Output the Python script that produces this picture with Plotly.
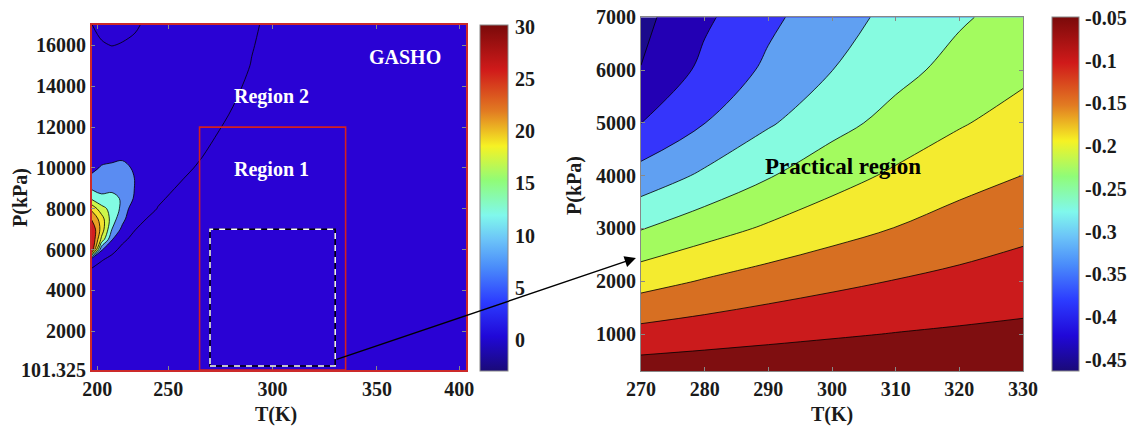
import plotly.graph_objects as go

W, H = 1132, 429
FONT = "Liberation Serif"

# ---------------- left panel : full GASHO map ----------------
T_full = [213.3, 218, 223, 228, 234, 245, 265, 290, 330, 392.7]
P_full = [101.325, 3000, 5000, 5500, 6000, 6500, 7000, 7500, 8000, 8500,
          9000, 9500, 10000, 10500, 11500, 13000, 15000, 16000, 17000]
Z_full = [
    [-0.5, -0.5, -0.5, -0.5, -0.5, -0.5, -0.5, -0.5, -0.5, -0.5],
    [-0.26, -0.49, -0.5, -0.5, -0.5, -0.5, -0.5, -0.5, -0.5, -0.5],
    [0.95, 0.715, 0.465, 0.215, -0.085, -0.5, -0.5, -0.5, -0.5, -0.5],
    [1.25, 1.05, 0.8, 0.515, 0.215, -0.335, -0.5, -0.5, -0.5, -0.5],
    [28.0, 5.5, 1.2, 0.82, 0.52, -0.03, -0.5, -0.5, -0.5, -0.5],
    [29.5, 16.0, 5.3, 1.15, 0.78, 0.23, -0.5, -0.5, -0.5, -0.5],
    [28.5, 19.5, 9.0, 4.0, 1.03, 0.475, -0.5, -0.5, -0.5, -0.5],
    [24.6, 19.0, 11.0, 6.2, 1.27, 0.72, -0.28, -0.5, -0.5, -0.5],
    [20.0, 14.5, 11.5, 8.0, 1.9, 0.955, -0.045, -0.5, -0.5, -0.5],
    [12.3, 10.0, 10.0, 8.6, 4.4, 1.18, 0.18, -0.5, -0.5, -0.5],
    [8.5, 7.8, 8.3, 8.2, 4.85, 1.405, 0.405, -0.5, -0.5, -0.5],
    [6.1, 6.0, 6.8, 7.2, 4.9, 1.63, 0.63, -0.5, -0.5, -0.5],
    [3.7, 5.5, 5.6, 6.0, 4.5, 1.86, 0.86, -0.39, -0.5, -0.5],
    [3.0, 3.6, 4.4, 4.6, 3.5, 2.055, 1.055, -0.195, -0.5, -0.5],
    [3.0, 3.0, 3.0, 3.0, 3.0, 2.37, 1.37, 0.12, -0.5, -0.5],
    [3.0, 3.0, 3.0, 3.0, 3.0, 2.8, 1.8, 0.55, -0.5, -0.5],
    [3.0, 3.0, 3.0, 3.0, 3.0, 3.0, 2.205, 0.955, -0.5, -0.5],
    [2.0, 1.25, 0.95, 1.16, 1.45, 3.0, 2.305, 1.055, -0.5, -0.5],
    [1.05, 0.3, 0.0, 0.2, 0.7, 2.0, 2.405, 1.155, -0.5, -0.5],
]
full_T_range = [213.3, 392.7]
full_P_range = [101.325, 17000]
full_T_ticks = [216, 250, 300, 350, 389.5]
full_T_labels = ["200", "250", "300", "350", "400"]
full_P_ticks = [101.325, 2000, 4000, 6000, 8000, 10000, 12000, 14000, 16000]
full_P_labels = ["101.325", "2000", "4000", "6000", "8000", "10000", "12000", "14000", "16000"]
full_levels = dict(start=1, end=25, size=4)
full_band_colors = ["#2a02d4", "#2a02d4", "#5a8cf2", "#82fbe2", "#cdf64a",
                    "#f4e02c", "#e8a024", "#d21e1e"]
full_cbar_range = [-3.0, 30.2]
full_cbar_ticks = [0, 5, 10, 15, 20, 25, 30]

region1_T = [265, 335]
region1_P = [101.325, 12000]

# ---------------- right panel : practical region ----------------
T_zoom = [270, 280, 290, 300, 310, 320, 330]
P_zoom = [300, 1000, 2000, 3000, 4000, 5000, 6000, 7000]
Z_zoom = [
    [-0.0798, -0.0759, -0.0732, -0.0716, -0.0708, -0.0707, -0.0709],
    [-0.1265, -0.1185, -0.1108, -0.1042, -0.0988, -0.0946, -0.0913],
    [-0.1954, -0.1769, -0.1619, -0.1494, -0.1386, -0.1292, -0.1205],
    [-0.2620, -0.2365, -0.2145, -0.1955, -0.1790, -0.1640, -0.1500],
    [-0.3249, -0.2929, -0.2629, -0.2354, -0.2135, -0.1939, -0.1797],
    [-0.3805, -0.3405, -0.3045, -0.2735, -0.2465, -0.2235, -0.2042],
    [-0.4189, -0.3699, -0.3324, -0.3004, -0.2719, -0.2469, -0.2285],
    [-0.4310, -0.3870, -0.3486, -0.3165, -0.2890, -0.2648, -0.2445],
]
zoom_T_range = [270, 330]
zoom_P_range = [300, 7000]
zoom_T_ticks = [270, 280, 290, 300, 310, 320, 330]
zoom_P_ticks = [1000, 2000, 3000, 4000, 5000, 6000, 7000]
zoom_levels = dict(start=-0.42, end=-0.10, size=0.04)
zoom_band_colors = ["#1b0b8c", "#2300b4", "#3535fb", "#60a0f2", "#86fbe0",
                    "#a3fb5f", "#f4eb2f", "#d76f22", "#cb1b1c", "#7f0e10"]
zoom_cbar_range = [-0.463, -0.049]
zoom_cbar_ticks = [-0.45, -0.4, -0.35, -0.3, -0.25, -0.2, -0.15, -0.1, -0.05]
zoom_cbar_labels = ["-0.45", "-0.4", "-0.35", "-0.3", "-0.25", "-0.2", "-0.15", "-0.1", "-0.05"]

annot_gasho = (363.5, 15430)
annot_region2 = (299.7, 13520)
annot_region1 = (299.7, 9900)
annot_practical = (301.7, 4180)
arrow_tail = (330, 600)      # left-panel data coords
arrow_head = (269.2, 2440)   # right-panel data coords

cbar_scale = [[0.0, "#1a0a78"], [0.1, "#2008d8"], [0.2, "#2c3cff"], [0.3, "#4a8cfa"],
              [0.38, "#6cc4f8"], [0.45, "#80f8ec"], [0.55, "#90fc78"], [0.65, "#f6f224"],
              [0.75, "#e27c22"], [0.87, "#d01a1a"], [1.0, "#7a0a0a"]]

# ---------------- layout geometry (pixels) ----------------
L_px = (91.7, 466.0, 25.0, 370.0)   # left, right, top, bottom
R_px = (641.0, 1023.0, 17.3, 371.0)
dom = lambda p: ([p[0] / W, p[1] / W], [1 - p[3] / H, 1 - p[2] / H])
Lx, Ly = dom(L_px)
Rx, Ry = dom(R_px)


def to_paper(pt, xr, yr, xd, yd):
    fx = xd[0] + (pt[0] - xr[0]) / (xr[1] - xr[0]) * (xd[1] - xd[0])
    fy = yd[0] + (pt[1] - yr[0]) / (yr[1] - yr[0]) * (yd[1] - yd[0])
    return fx, fy


def band_scale(colors):
    n = len(colors) - 1
    return [[k / n, c] for k, c in enumerate(colors)]


tickfont = dict(family=FONT, size=20, color="#1a1a1a", weight="bold")

fig = go.Figure()
fig.add_trace(go.Contour(
    x=T_full, y=P_full, z=Z_full, xaxis="x", yaxis="y",
    autocontour=False, contours=dict(coloring="fill", showlines=True, **full_levels),
    colorscale=band_scale(full_band_colors), showscale=False,
    line=dict(color="black", width=0.8, smoothing=1), hoverinfo="skip"))
fig.add_trace(go.Contour(
    x=T_zoom, y=P_zoom, z=Z_zoom, xaxis="x2", yaxis="y2",
    autocontour=False, contours=dict(coloring="fill", showlines=True, **zoom_levels),
    colorscale=band_scale(zoom_band_colors), showscale=False,
    line=dict(color="black", width=0.8, smoothing=1), hoverinfo="skip"))

# continuous colour bars
fig.add_trace(go.Scatter(
    x=[T_full[0]], y=[P_full[0]], xaxis="x", yaxis="y", mode="markers",
    marker=dict(color=[full_cbar_range[0]], opacity=0, size=1, colorscale=cbar_scale,
                cmin=full_cbar_range[0], cmax=full_cbar_range[1], showscale=True,
                colorbar=dict(x=480 / W, xanchor="left", y=1 - 25 / H, yanchor="top",
                              len=346 / H, lenmode="fraction", thickness=28, thicknessmode="pixels",
                              xpad=0, ypad=0, outlinewidth=1, outlinecolor="#888888",
                              tickvals=full_cbar_ticks, ticks="outside", ticklen=3,
                              tickcolor="#ffffff", tickfont=tickfont)),
    showlegend=False, hoverinfo="skip"))
fig.add_trace(go.Scatter(
    x=[T_zoom[0]], y=[P_zoom[0]], xaxis="x2", yaxis="y2", mode="markers",
    marker=dict(color=[zoom_cbar_range[0]], opacity=0, size=1, colorscale=cbar_scale,
                cmin=zoom_cbar_range[0], cmax=zoom_cbar_range[1], showscale=True,
                colorbar=dict(x=1052 / W, xanchor="left", y=1 - 17 / H, yanchor="top",
                              len=354 / H, lenmode="fraction", thickness=27, thicknessmode="pixels",
                              xpad=0, ypad=0, outlinewidth=1, outlinecolor="#888888",
                              tickvals=zoom_cbar_ticks, ticktext=zoom_cbar_labels,
                              ticks="outside", ticklen=2, tickcolor="#ffffff", tickfont=tickfont)),
    showlegend=False, hoverinfo="skip"))

# boxes
fig.add_shape(type="rect", xref="x", yref="y", x0=region1_T[0], x1=region1_T[1],
              y0=region1_P[0], y1=region1_P[1], line=dict(color="#d42020", width=1.6))
fig.add_shape(type="rect", xref="x", yref="y", x0=zoom_T_range[0], x1=zoom_T_range[1],
              y0=zoom_P_range[0], y1=zoom_P_range[1], line=dict(color="black", width=1.5))
fig.add_shape(type="rect", xref="x", yref="y", x0=zoom_T_range[0], x1=zoom_T_range[1],
              y0=zoom_P_range[0], y1=zoom_P_range[1],
              line=dict(color="white", width=1.5, dash="6px,6px"))

# texts
white = dict(family=FONT, size=20, color="white", weight="bold")
for txt, pos in [("GASHO", annot_gasho), ("Region 2", annot_region2), ("Region 1", annot_region1)]:
    fig.add_annotation(x=pos[0], y=pos[1], xref="x", yref="y", text=txt, showarrow=False, font=white)
fig.add_annotation(x=annot_practical[0], y=annot_practical[1], xref="x2", yref="y2",
                   text="Practical region", showarrow=False,
                   font=dict(family=FONT, size=23, color="black", weight="bold"))

tx, ty = to_paper(arrow_tail, full_T_range, full_P_range, Lx, Ly)
hx, hy = to_paper(arrow_head, zoom_T_range, zoom_P_range, Rx, Ry)
fig.add_annotation(x=hx, y=hy, xref="paper", yref="paper",
                   ax=(tx - hx) * W, ay=-(ty - hy) * H, axref="pixel", ayref="pixel",
                   text="", showarrow=True,
                   arrowhead=2, arrowsize=1.6, arrowwidth=1.4, arrowcolor="black")

# axis titles
title_font = dict(family=FONT, size=20, color="#1a1a1a", weight="bold")
for (px, py, txt, ang) in [(20, 198, "P(kPa)", -90), (575, 185, "P(kPa)", -90),
                           (276, 414, "T(K)", 0), (832, 414, "T(K)", 0)]:
    fig.add_annotation(x=px / W, y=1 - py / H, xref="paper", yref="paper", text=txt,
                       xanchor="center", yanchor="middle",
                       textangle=ang, showarrow=False, font=title_font)

axis_common = dict(showgrid=False, zeroline=False, ticks="inside", ticklen=4,
                   tickfont=tickfont, mirror="ticks", showline=True)
fig.update_layout(
    width=W, height=H, margin=dict(l=0, r=0, t=0, b=0, autoexpand=False),
    paper_bgcolor="white", plot_bgcolor="white", showlegend=False,
    xaxis=dict(domain=Lx, range=full_T_range, tickvals=full_T_ticks, ticktext=full_T_labels,
               linecolor="#cc2a2a", linewidth=1.5, tickcolor="#888888", anchor="y", **axis_common),
    yaxis=dict(domain=Ly, range=full_P_range, tickvals=full_P_ticks, ticktext=full_P_labels,
               linecolor="#cc2a2a", linewidth=1.5, tickcolor="#888888", anchor="x", **axis_common),
    xaxis2=dict(domain=Rx, range=zoom_T_range, tickvals=zoom_T_ticks,
                linecolor="#888888", linewidth=1, tickcolor="#888888", anchor="y2", **axis_common),
    yaxis2=dict(domain=Ry, range=zoom_P_range, tickvals=zoom_P_ticks,
                linecolor="#888888", linewidth=1, tickcolor="#888888", anchor="x2", **axis_common),
)

fig.write_html("out.html", config={"displayModeBar": False},
               post_script="document.body.style.margin='0px';document.body.style.overflow='hidden';")
